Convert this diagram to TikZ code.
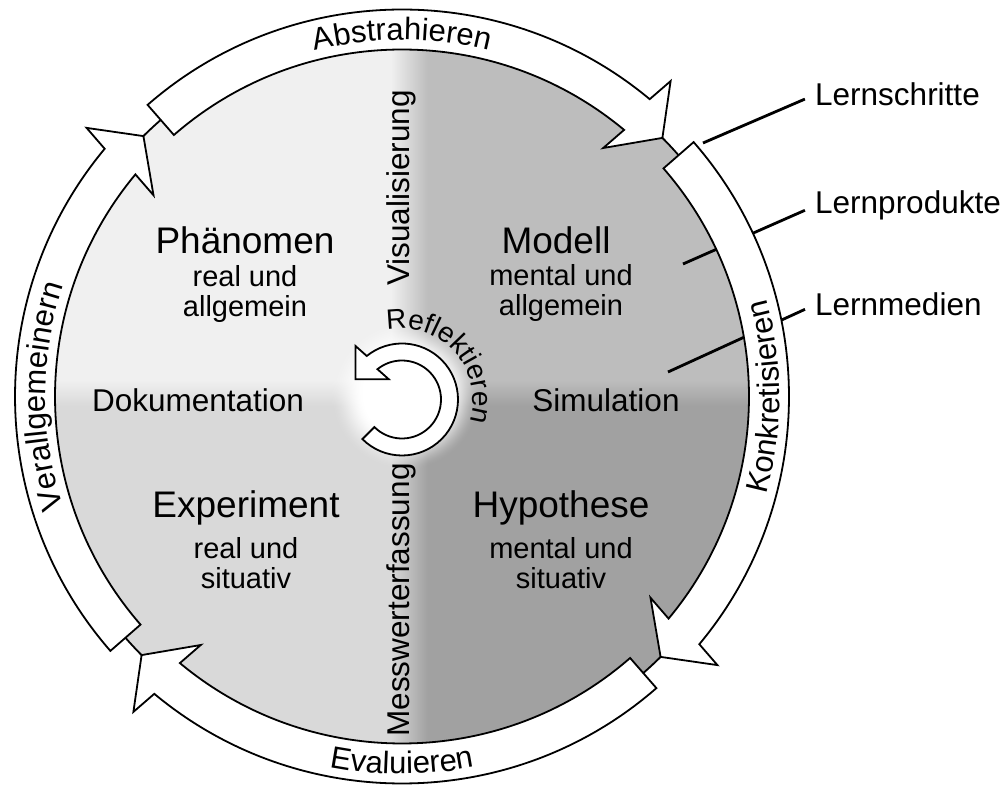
\documentclass[tikz,border=0pt]{standalone}
\usepackage{fontspec}
\setmainfont{Liberation Sans}
\usetikzlibrary{calc,decorations.text}

\pgfdeclarefunctionalshading{diskshade}{\pgfpointorigin}{\pgfpoint{100bp}{100bp}}{}{
 25 sub 50 div exch 25 sub 50 div exch
 1 index 0.485 sub 0.05 div dup 0 lt {pop 0} if dup 1 gt {pop 1} if
 1 index 0.487 sub 0.035 div dup 0 lt {pop 0} if dup 1 gt {pop 1} if
 1 index -0.2 mul 0.94 add
 2 index -0.22 mul 0.85 add
 dup 3 1 roll sub 3 -1 roll mul add
 exch pop
 2 index 0.504 sub dup mul 2 index 0.502 sub dup mul add sqrt 734 mul
 75 exch sub 35 div dup 0 lt {pop 0} if dup 1 gt {pop 1} if
 dup dup mul exch -2 mul 3 add mul
 1 2 index sub mul add
 3 1 roll pop pop
 dup dup
}

\newcommand\bigf{\fontsize{37}{40}\selectfont}
\newcommand\subf{\fontsize{29}{30.5}\selectfont}
\newcommand\midf{\fontsize{31.5}{34}\selectfont}
\newcommand\bandf{\fontsize{31}{33}\selectfont}
\newcommand\reff{\fontsize{28}{30}\selectfont}

\def\Rin{347}
\def\Rout{387}
\def\Rmid{367}

\tikzset{
  band/.style={fill=white, draw=black, line width=1.8pt, line join=miter},
  ringarrow/.style={fill=white, draw=black, line width=1.8pt, line join=miter},
  labline/.style={draw=black, line width=2.8pt},
  bigtxt/.style={font=\bigf, inner sep=0pt},
  subtxt/.style={font=\subf, align=center, inner sep=0pt},
  midtxt/.style={font=\midf, inner sep=0pt},
  labtxt/.style={font=\midf, inner sep=0pt, anchor=base west},
  bandtext/.style={decorate, decoration={text along path, text align=center, text={|\bandf|#1}}}
}

\newcommand{\bandarrow}[2]{%
  \pgfmathsetmacro{\bN}{#2+5.4}%
  \pgfmathsetmacro{\bB}{#2+180}%
  \draw[band] ($(C)+(#1:\Rout)$) arc[start angle=#1, end angle=\bN, radius=\Rout pt]
    -- ($(C)+(\bN:\Rmid)+(#2:47.5)$) -- ($(C)+(#2:\Rmid)$)
    -- ($(C)+(\bN:\Rmid)+(\bB:47.5)$) -- ($(C)+(\bN:\Rin)$)
    arc[start angle=\bN, end angle=#1, radius=\Rin pt] -- cycle;}

\begin{document}
\begin{tikzpicture}[x=1pt,y=1pt]
\useasboundingbox (0,0) rectangle (1006,787);
\coordinate (C) at (402,390.5);
\coordinate (R) at (402,387.5);

% disk
\shade[shading=diskshade] (C) circle[radius=\Rmid pt];

% label lines (under the bands)
\node[labtxt] (lschr) at (815,681) {Lernschritte};
\node[labtxt] (lprod) at (815,573) {Lernprodukte};
\node[labtxt] (lmed) at (815,471) {Lernmedien};
\coordinate (l1) at (703,644);
\coordinate (l2) at (683,523);
\coordinate (l3) at (668,415);
\draw[labline, shorten >=11pt] (l1) -- (lschr.west);
\draw[labline, shorten >=11pt] (l2) -- (lprod.west);
\draw[labline, shorten >=11pt] (l3) -- (lmed.west);

\draw[line width=1.8pt] (C) circle[radius=\Rmid pt];

% band arrows
\bandarrow{131.1}{44.8}
\bandarrow{41.1}{-45.2}
\bandarrow{-48.9}{-135.2}
\bandarrow{-138.9}{-225.2}

% band texts
\path[bandtext=Abstrahieren] ($(C)+(130:356.5)$) arc[start angle=130, end angle=50, radius=356.5pt];
\path[bandtext=Konkretisieren] ($(C)+(-40:377.5)$) arc[start angle=-40, end angle=40, radius=377.5pt];
\path[bandtext=Evaluieren] ($(C)+(230:377.5)$) arc[start angle=230, end angle=310, radius=377.5pt];
\path[bandtext=Verallgemeinern] ($(C)+(220:356.5)$) arc[start angle=220, end angle=140, radius=356.5pt];

% reflect ring arrow
\draw[ringarrow] ($(R)+(225:56)$) arc[start angle=225, end angle=489, radius=56pt]
  -- ($(R)+(129:47.5)+(135:23.5)$) -- ($(R)+(129:47.5)+(225:23.5)$)
  -- ($(R)+(129:47.5)+(-45:23.5)$) -- ($(R)+(129:39)$)
  arc[start angle=489, end angle=225, radius=39pt] -- cycle;
\path[decorate, decoration={text along path, text align=center, text={|\reff|Reflektieren}}]
  ($(R)+(112:71)$) arc[start angle=112, end angle=-28, radius=71pt];

% quadrant texts
\node[bigtxt] (phen) at (245,547) {Phänomen};
\node[subtxt] (phensub) at (245,493) {real und\\allgemein};
\node[bigtxt] (mod) at (556,547) {Modell};
\node[subtxt] (modsub) at (561,494) {mental und\\allgemein};
\node[bigtxt] (exp) at (246,279) {Experiment};
\node[subtxt] (expsub) at (246,224) {real und\\situativ};
\node[bigtxt] (hyp) at (561,279) {Hypothese};
\node[subtxt] (hypsub) at (561,224) {mental und\\situativ};
\node[midtxt] (dok) at (198,387) {Dokumentation};
\node[midtxt] (sim) at (606,387) {Simulation};
\node[midtxt, rotate=90] (vis) at (401,599) {Visualisierung};
\node[midtxt, rotate=90] (mess) at (401,187) {Messwerterfassung};
\end{tikzpicture}
\end{document}
